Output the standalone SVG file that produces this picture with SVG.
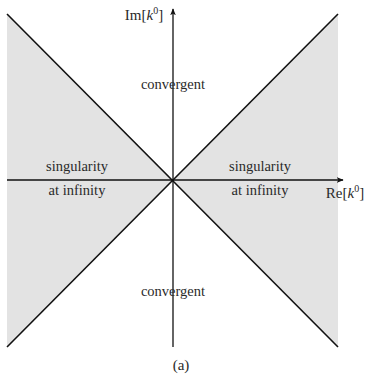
<svg xmlns="http://www.w3.org/2000/svg" width="365" height="375" viewBox="0 0 365 375">
<style>
text{font-family:"Liberation Serif","DejaVu Serif",serif;fill:#2a2a2a;text-anchor:middle}
.lbl{font-size:14.5px}
.ax{font-size:15px}
.edge{stroke:#111;stroke-width:1.6;fill:none}
.axis{stroke:#111;stroke-width:1.3;fill:none}
.region{fill:#e3e3e3;stroke:none}
</style>
<defs>
<marker id="arr" viewBox="0 0 10 10" refX="9" refY="5" markerWidth="7" markerHeight="7" orient="auto" markerUnits="userSpaceOnUse">
<path d="M0,1 L10,5 L0,9 L2.5,5 Z" fill="#111"/>
</marker>
</defs>
<g id="regions">
<polygon class="region" points="7,14 173,180 7,347"/>
<polygon class="region" points="338,14 173,180 338,347"/>
</g>
<g id="connectors">
<line class="edge" x1="7" y1="14" x2="338" y2="347"/>
<line class="edge" x1="338" y1="14" x2="7" y2="347"/>
<line class="axis" x1="7" y1="180" x2="343" y2="180" marker-end="url(#arr)"/>
<line class="axis" x1="173" y1="347" x2="173" y2="9" marker-end="url(#arr)"/>
</g>
<g id="labels">
<text class="ax" x="144" y="20">Im[<tspan font-style="italic">k</tspan><tspan dy="-6" font-size="10">0</tspan><tspan dy="6">]</tspan></text>
<text class="ax" x="345" y="198">Re[<tspan font-style="italic">k</tspan><tspan dy="-6" font-size="10">0</tspan><tspan dy="6">]</tspan></text>
<text class="lbl" x="173" y="89">convergent</text>
<text class="lbl" x="173" y="296">convergent</text>
<text class="lbl" x="77" y="171">singularity</text>
<text class="lbl" x="77" y="195">at infinity</text>
<text class="lbl" x="260" y="171">singularity</text>
<text class="lbl" x="260" y="195">at infinity</text>
<text class="ax" x="181" y="370" font-size="16">(a)</text>
</g>
</svg>
